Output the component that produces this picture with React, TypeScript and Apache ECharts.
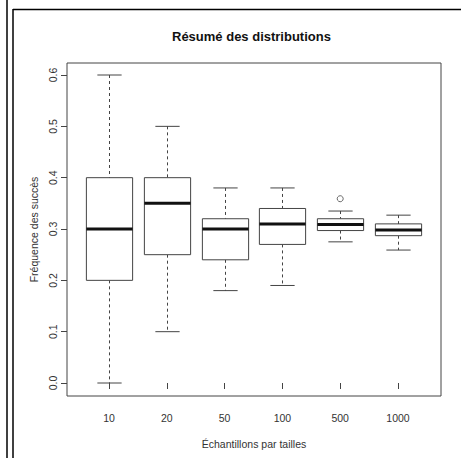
import React, { useEffect, useRef } from "react";
import * as echarts from "echarts";

const categories = ["10", "20", "50", "100", "500", "1000"];
const whiskerLow = [0.0, 0.1, 0.18, 0.19, 0.275, 0.259];
const quartile1 = [0.2, 0.25, 0.24, 0.27, 0.297, 0.287];
const medians = [0.3, 0.35, 0.3, 0.31, 0.309, 0.298];
const quartile3 = [0.4, 0.4, 0.32, 0.34, 0.32, 0.31];
const whiskerHigh = [0.6, 0.5, 0.38, 0.38, 0.335, 0.327];
const outlierCategory = ["500"];
const outlierValues = [0.359];
const yTicks = [0, 0.1, 0.2, 0.3, 0.4, 0.5, 0.6];

const FONT = "'Liberation Sans', Arial, sans-serif";
const LINE = "#444";

export default function App() {
  const ref = useRef<HTMLDivElement>(null);
  useEffect(() => {
    if (!ref.current) return;
    const chart = echarts.init(ref.current, null, { renderer: "svg" });
    const boxData = categories.map((_, k) => [
      k + 1,
      whiskerLow[k],
      quartile1[k],
      medians[k],
      quartile3[k],
      whiskerHigh[k],
    ]);
    const outData = outlierCategory.map((c, k) => [categories.indexOf(c) + 1, outlierValues[k]]);
    const BOX_W = 0.8;
    const CAP_W = 0.42;
    const option: any = {
      animation: false,
      backgroundColor: "#fff",
      title: {
        text: "Résumé des distributions",
        left: 172,
        top: 30,
        padding: 0,
        textStyle: { fontFamily: FONT, fontSize: 13, fontWeight: "bold", color: "#111" },
      },
      grid: {
        left: 67,
        right: 20,
        top: 63,
        bottom: 62,
        show: true,
        borderColor: LINE,
        borderWidth: 1,
        backgroundColor: "transparent",
      },
      xAxis: {
        type: "value",
        min: 0.273,
        max: 6.744,
        name: "Échantillons par tailles",
        nameLocation: "middle",
        nameGap: 42,
        nameTextStyle: { fontFamily: FONT, fontSize: 10.5, color: "#333" },
        axisLine: { show: false },
        splitLine: { show: false },
        axisTick: {
          show: true,
          length: 6,
          lineStyle: { color: LINE },
          customValues: categories.map((_, k) => k + 1),
        },
        axisLabel: {
          fontFamily: FONT,
          fontSize: 10.5,
          color: "#333",
          margin: 16,
          customValues: categories.map((_, k) => k + 1),
          formatter: (v: number) => categories[Math.round(v) - 1] ?? "",
        },
      },
      yAxis: {
        type: "value",
        min: -0.0253,
        max: 0.6234,
        name: "Fréquence des succès",
        nameLocation: "middle",
        nameRotate: 90,
        nameGap: 28,
        nameTextStyle: { fontFamily: FONT, fontSize: 10.5, color: "#333" },
        axisLine: { show: false },
        splitLine: { show: false },
        axisTick: {
          show: true,
          length: 6,
          lineStyle: { color: LINE },
          customValues: yTicks,
        },
        axisLabel: {
          fontFamily: FONT,
          fontSize: 10.5,
          color: "#333",
          rotate: 90,
          margin: 9,
          customValues: yTicks,
          formatter: (v: number) => v.toFixed(1),
        },
      },
      graphic: [
        { type: "line", shape: { x1: 7, y1: 0, x2: 7, y2: 458 }, style: { stroke: "#000", lineWidth: 1.5 } },
        { type: "line", shape: { x1: 13, y1: 9, x2: 13, y2: 458 }, style: { stroke: "#000", lineWidth: 1.5 } },
        { type: "line", shape: { x1: 13, y1: 9.5, x2: 461, y2: 9.5 }, style: { stroke: "#000", lineWidth: 1.5 } },
      ],
      series: [
        {
          type: "custom",
          data: boxData,
          encode: { x: 0, y: [1, 2, 3, 4, 5] },
          renderItem: (params: any, api: any) => {
            const x = api.value(0);
            const lo = api.coord([x, api.value(1)]);
            const q1 = api.coord([x, api.value(2)]);
            const md = api.coord([x, api.value(3)]);
            const q3 = api.coord([x, api.value(4)]);
            const hi = api.coord([x, api.value(5)]);
            const cx = Math.round(lo[0]) + 0.5;
            const hb = api.size([BOX_W, 0])[0] / 2;
            const hc = api.size([CAP_W, 0])[0] / 2;
            const thin = { stroke: LINE, lineWidth: 1, fill: null };
            const dashed = { stroke: LINE, lineWidth: 1, lineDash: [3, 3], fill: null };
            return {
              type: "group",
              children: [
                { type: "line", shape: { x1: cx, y1: hi[1], x2: cx, y2: q3[1] }, style: dashed },
                { type: "line", shape: { x1: cx, y1: q1[1], x2: cx, y2: lo[1] }, style: dashed },
                { type: "line", shape: { x1: cx - hc, y1: hi[1], x2: cx + hc, y2: hi[1] }, style: thin },
                { type: "line", shape: { x1: cx - hc, y1: lo[1], x2: cx + hc, y2: lo[1] }, style: thin },
                {
                  type: "rect",
                  shape: { x: cx - hb, y: q3[1], width: hb * 2, height: q1[1] - q3[1] },
                  style: { fill: "#fff", stroke: LINE, lineWidth: 1 },
                },
                {
                  type: "line",
                  shape: { x1: cx - hb, y1: md[1], x2: cx + hb, y2: md[1] },
                  style: { stroke: "#111", lineWidth: 3 },
                },
              ],
            };
          },
          z: 2,
        },
        {
          type: "scatter",
          data: outData,
          symbol: "circle",
          symbolSize: 6,
          itemStyle: { color: "#fff", borderColor: LINE, borderWidth: 1 },
          z: 3,
        },
      ],
    };
    chart.setOption(option);
    return () => chart.dispose();
  }, []);
  return (
    <div
      ref={ref}
      style={{ position: "fixed", left: 0, top: 0, width: 461, height: 458, background: "#fff" }}
    />
  );
}
